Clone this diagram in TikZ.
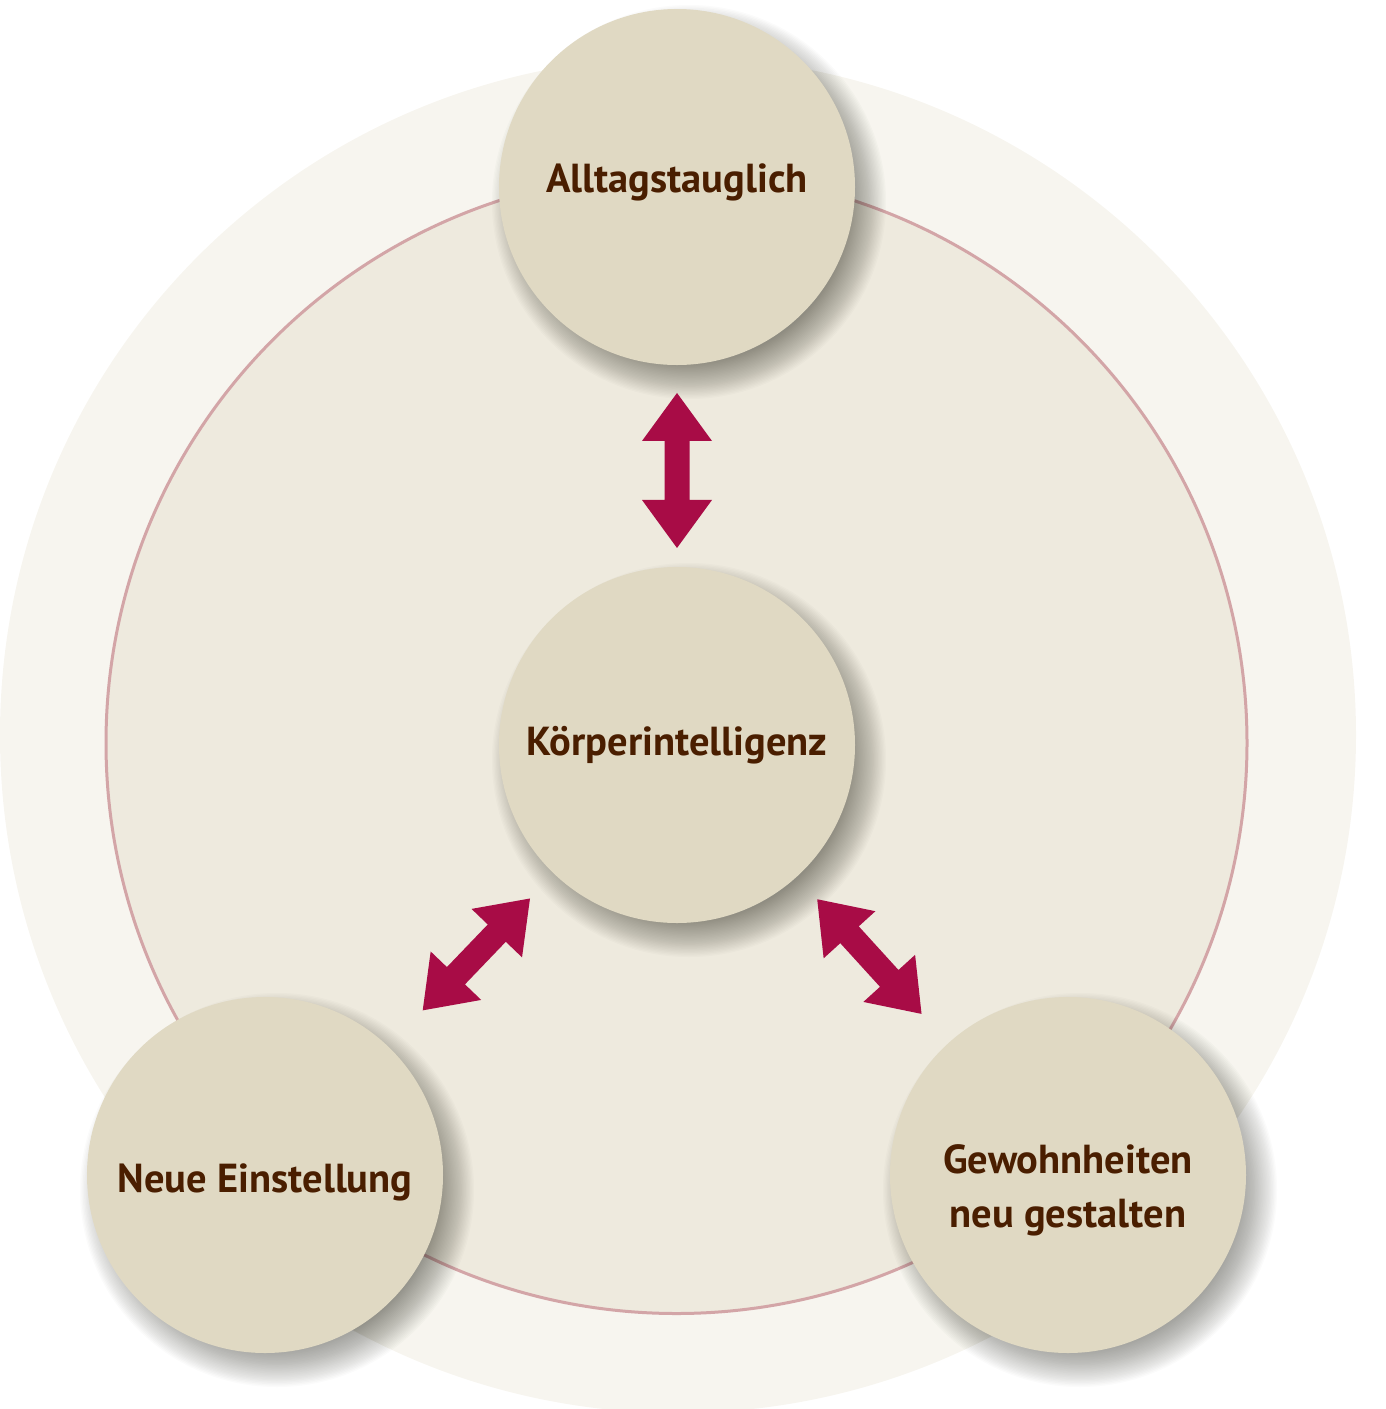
\documentclass[tikz,border=0pt]{standalone}
\usepackage{fontspec}
\setmainfont{PT Sans}
\usetikzlibrary{calc}
\pgfdeclarelayer{background}
\pgfsetlayers{background,main}
\definecolor{outerbg}{HTML}{F7F5EF}
\definecolor{innerbg}{HTML}{EEEADE}
\definecolor{ringline}{HTML}{D3A5A7}
\definecolor{nodefill}{HTML}{E0D9C3}
\definecolor{txtbrown}{HTML}{4A1E00}
\definecolor{arrowred}{HTML}{A80C46}
\definecolor{shadowgray}{HTML}{2A2A20}
\tikzset{
  circ/.style={circle, fill=nodefill, minimum size=356pt, inner sep=0pt,
    text=txtbrown, font=\bfseries\fontsize{40.5}{54}\selectfont, align=center},
  shadowdisc/.style={fill=shadowgray, fill opacity=0.02},
  fatarrow/.pic={\fill[arrowred] (-77.5,0) -- (-29.5,35) -- (-29.5,12.5) -- (29.5,12.5) -- (29.5,35)
     -- (77.5,0) -- (29.5,-35) -- (29.5,-12.5) -- (-29.5,-12.5) -- (-29.5,-35) -- cycle;}
}
\newcommand\castshadow[1]{%
  \foreach \i in {0,...,29} {\fill[shadowdisc] ([xshift=12pt,yshift=-15pt]#1.center) circle ({197-1.35*\i});}}
\begin{document}
\begin{tikzpicture}[x=1pt,y=-1pt]
\useasboundingbox (0,0) rectangle (1385,1409);
\begin{pgfonlayer}{background}
\begin{scope}
\clip (0,0) rectangle (1385,1409);
\fill[outerbg] (678,735) circle (678);
\end{scope}
\draw[ringline, line width=3pt, fill=innerbg] (676.5,743) circle (570.5);
\end{pgfonlayer}
\node[circ] (T) at (677,187) {\raisebox{5pt}[\height][\depth]{Alltagstauglich}};
\node[circ] (C) at (677,745) {Körperintelligenz};
\node[circ] (L) at (265,1175) {\raisebox{-7pt}[\height][\depth]{Neue Einstellung}};
\node[circ] (R) at (1068,1175) {\raisebox{-15pt}[\height][\depth]{\begin{tabular}{@{}c@{}}Gewohnheiten\\neu gestalten\end{tabular}}};
\begin{pgfonlayer}{background}
\castshadow{T}\castshadow{C}\castshadow{L}\castshadow{R}
\end{pgfonlayer}
\path ($(C)!0.492!(T)$) pic[rotate=90] {fatarrow};
\path ($(C)!0.487!(L)$) pic[rotate=46.2] {fatarrow};
\path ($(C)!0.492!(R)$) pic[rotate=-47.7] {fatarrow};
\end{tikzpicture}
\end{document}
